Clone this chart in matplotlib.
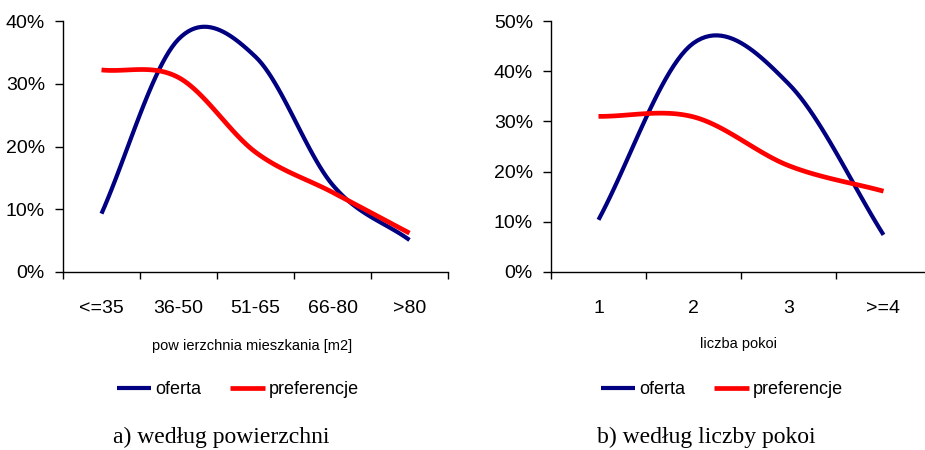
import numpy as np
import matplotlib
matplotlib.use('Agg')
import matplotlib.pyplot as plt
from matplotlib.ticker import FuncFormatter, FixedLocator

plt.rcParams['font.family'] = ['Liberation Sans', 'DejaVu Sans']

# dane - wykres a) według powierzchni
kat_pow = ['<=35', '36-50', '51-65', '66-80', '>80']
oferta_pow = [9.3, 37.1, 34.3, 13.9, 5.1]
pref_pow = [32.2, 31.0, 19.1, 12.7, 6.2]

# dane - wykres b) według liczby pokoi
kat_pok = ['1', '2', '3', '>=4']
oferta_pok = [10.4, 45.6, 37.5, 7.4]
pref_pok = [31.0, 30.9, 21.2, 16.1]

NAVY = '#000080'
RED = '#ff0000'
W, H = 925, 450


def wygladz(ys, n=24):
    """linia wygładzona jak w Excelu (spline Hermite'a)"""
    ys = np.asarray(ys, dtype=float)
    k = len(ys)
    m = np.zeros(k)
    m[0] = ys[1] - ys[0]
    m[-1] = ys[-1] - ys[-2]
    for i in range(1, k - 1):
        m[i] = (ys[i + 1] - ys[i - 1]) / 2
    xs_out, ys_out = [], []
    for i in range(k - 1):
        t = np.linspace(0, 1, n, endpoint=(i == k - 2))
        h00 = 2 * t**3 - 3 * t**2 + 1
        h10 = t**3 - 2 * t**2 + t
        h01 = -2 * t**3 + 3 * t**2
        h11 = t**3 - t**2
        xs_out.append(i + t)
        ys_out.append(h00 * ys[i] + h10 * m[i] + h01 * ys[i + 1] + h11 * m[i + 1])
    return np.concatenate(xs_out), np.concatenate(ys_out)


def rysuj(ax, kategorie, oferta, pref, ymax):
    n = len(kategorie)
    x, y = wygladz(oferta)
    ax.plot(x, y / 100, color=NAVY, lw=3.0, label='oferta', solid_capstyle='butt')
    x, y = wygladz(pref)
    ax.plot(x, y / 100, color=RED, lw=3.4, label='preferencje', solid_capstyle='butt')

    ax.set_xlim(-0.5, n - 0.5)
    ax.set_ylim(0, ymax)
    ax.set_yticks(np.arange(0, ymax + 0.001, 0.1))
    ax.yaxis.set_major_formatter(FuncFormatter(lambda v, p: f'{v*100:.0f}%'))

    ax.xaxis.set_major_locator(FixedLocator(np.arange(-0.5, n, 1.0)))
    ax.xaxis.set_minor_locator(FixedLocator(np.arange(n)))
    ax.set_xticklabels([], minor=False)
    ax.set_xticklabels(kategorie, minor=True)
    ax.tick_params(axis='x', which='major', length=5, width=1, direction='out')
    ax.tick_params(axis='x', which='minor', length=0, pad=20, labelsize=14)
    ax.tick_params(axis='y', length=6, width=1, pad=7, labelsize=14)

    for s in ['top', 'right']:
        ax.spines[s].set_visible(False)
    for s in ['left', 'bottom']:
        ax.spines[s].set_linewidth(1)
        ax.spines[s].set_color('black')


fig = plt.figure(figsize=(W / 100, H / 100), dpi=100)

ax1 = fig.add_axes([63 / W, 1 - 272 / H, (448 - 63) / W, 251 / H])
rysuj(ax1, kat_pow, oferta_pow, pref_pow, 0.40)

ax2 = fig.add_axes([551 / W, 1 - 272 / H, 380 / W, 251 / H])
rysuj(ax2, kat_pok, oferta_pok, pref_pok, 0.50)

# opisy osi
fig.text(252 / W, 1 - 346 / H, 'pow ierzchnia mieszkania [m2]', ha='center', va='center', fontsize=10.5)
fig.text(738 / W, 1 - 344 / H, 'liczba pokoi', ha='center', va='center', fontsize=10.5)

# legendy
for ax, cx in [(ax1, 238), (ax2, 722)]:
    ax.legend(loc='center', bbox_to_anchor=(cx / W, 1 - 390 / H), bbox_transform=fig.transFigure,
              ncol=2, frameon=False, fontsize=13, handlelength=1.9, handletextpad=0.25,
              columnspacing=1.6)

# podpisy pod wykresami
fig.text(221 / W, 1 - 437 / H, 'a) według powierzchni', ha='center', va='center',
         fontsize=17, family=['Liberation Serif', 'DejaVu Serif'])
fig.text(706 / W, 1 - 437 / H, 'b) według liczby pokoi', ha='center', va='center',
         fontsize=17, family=['Liberation Serif', 'DejaVu Serif'])

fig.savefig('out.png', dpi=100)
